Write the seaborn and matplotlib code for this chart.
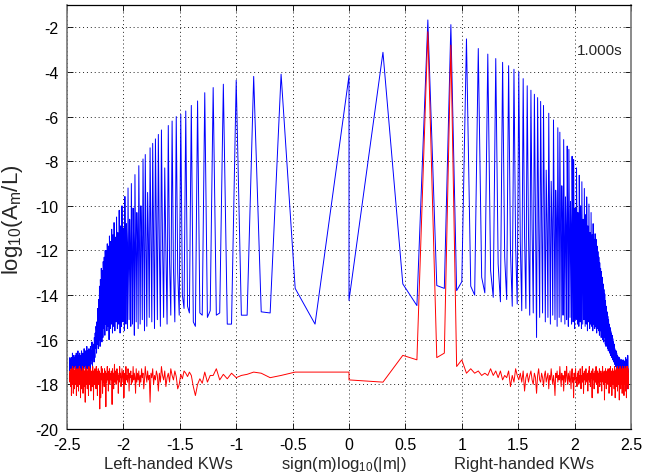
import numpy as np
import pandas as pd
import matplotlib
matplotlib.use("Agg")
import matplotlib.pyplot as plt
import matplotlib.transforms as mtransforms
import seaborn as sns

# Blue spectrum, right-handed side (m > 0), one value per group of three modes:
# m = 3j+1 (low), m = 3j+2 (peak), m = 3j+3 (mid), j = 0..99
peak_right = [
    -3.12, -1.67, -1.88, -2.52, -2.95, -3.2, -3.4, -3.57, -3.72, -3.88,
    -4.0, -4.3, -4.62, -4.82, -5.0, -5.15, -5.32, -5.5, -8.4, -5.85,
    -8.9, -6.15, -9.3, -6.5, -6.7, -9.1, -7.03, -9.6, -7.32, -7.47,
    -9.8, -7.78, -7.93, -10.1, -8.3, -10.3, -8.63, -10.0, -8.92, -10.6,
    -9.22, -10.4, -9.6, -10.9, -9.92, -11.2, -10.3, -11.3, -10.8, -11.5,
    -11.25, -11.5, -11.8, -12.05, -12.3, -12.55, -12.8, -12.95, -13.2, -13.5,
    -13.75, -13.95, -14.25, -14.5, -14.75, -14.95, -15.1, -15.3, -15.45, -15.6,
    -15.7, -15.8, -15.95, -16.1, -16.2, -16.4, -16.5, -16.55, -16.6, -16.7,
    -16.75, -16.8, -16.9, -16.85, -17.0, -16.9, -17.05, -16.95, -17.1, -16.9,
    -17.0, -17.15, -16.95, -17.05, -16.8, -17.1, -16.9, -17.2, -16.7, -17.4,
]
mid_right = [
    -13.5, -13.57, -13.8, -13.6, -13.2, -12.9, -12.6, -12.3, -12.0, -11.8,
    -11.6, -11.4, -11.2, -11.0, -10.8, -10.6, -10.7, -10.5, -10.8, -10.6,
    -10.7, -10.9, -10.6, -10.8, -11.0, -10.7, -10.9, -11.1, -10.8, -11.0,
    -11.2, -11.0, -11.3, -11.5, -11.2, -11.6, -11.4, -11.7, -11.9, -11.6,
    -12.0, -12.2, -11.9, -12.3, -12.5, -12.2, -12.6, -12.8, -12.7, -13.0,
    -13.2, -13.4, -13.3, -13.6, -13.8, -13.7, -14.0, -14.2, -14.4, -14.6,
    -14.8, -15.0, -15.1, -15.3, -15.2, -15.5, -15.6, -15.8, -15.7, -16.0,
    -16.1, -16.0, -16.3, -16.4, -16.2, -16.5, -16.6, -16.5, -16.8, -16.7,
    -16.9, -17.0, -16.8, -17.1, -17.0, -17.2, -16.9, -17.3, -17.1, -17.0,
    -17.2, -17.4, -17.1, -17.3, -17.5, -17.2, -17.4, -17.6, -17.3, -17.5,
]
low_right = [
    -14.24, -14.47, -13.7, -13.4, -14.0, -13.9, -14.1, -14.3, -14.2, -14.5,
    -14.4, -14.7, -14.6, -14.9, -14.8, -15.9, -15.0, -14.8, -15.2, -15.0,
    -15.3, -14.9, -15.1, -15.4, -15.0, -15.2, -14.9, -15.3, -15.1, -15.4,
    -15.0, -15.3, -15.2, -15.5, -15.1, -15.3, -15.4, -15.2, -15.5, -15.3,
    -15.1, -15.4, -15.3, -15.6, -15.2, -15.5, -15.3, -15.4, -15.6, -15.3,
    -15.5, -15.4, -15.7, -15.5, -15.6, -15.8, -15.6, -15.9, -15.8, -16.0,
    -16.1, -15.9, -16.2, -16.3, -16.1, -16.4, -16.5, -16.3, -16.6, -16.7,
    -16.6, -16.8, -16.9, -16.7, -17.0, -17.1, -16.9, -17.2, -17.3, -17.1,
    -17.4, -17.3, -17.5, -17.2, -17.6, -17.4, -17.7, -17.5, -17.3, -17.8,
    -17.5, -17.6, -17.9, -17.4, -17.7, -18.0, -17.6, -17.8, -18.2, -17.7,
]

# Blue spectrum, left-handed side (m < 0), groups of |m|:
# |m| = 3j+1 (peak), |m| = 3j+2 (low), |m| = 3j+3 (mid), j = 0..99
peak_left = [
    -4.17, -4.1, -4.2, -4.37, -4.55, -4.7, -4.93, -5.3, -5.5, -5.75,
    -5.9, -6.0, -6.2, -6.4, -8.3, -6.6, -6.8, -7.0, -7.2, -7.4,
    -9.4, -7.7, -7.9, -10.0, -8.2, -10.3, -8.6, -10.1, -9.0, -10.6,
    -9.2, -10.8, -9.58, -11.0, -10.0, -10.9, -10.2, -11.2, -10.5, -11.4,
    -10.75, -11.3, -11.05, -11.6, -11.35, -11.8, -11.7, -12.0, -12.0, -12.3,
    -12.5, -12.9, -12.8, -13.3, -13.6, -14.2, -14.6, -15.2, -15.4, -15.7,
    -15.9, -16.2, -16.4, -16.1, -16.5, -16.3, -16.6, -16.4, -16.7, -16.5,
    -16.3, -16.6, -16.5, -16.8, -16.4, -16.7, -16.6, -16.9, -16.5, -16.7,
    -16.8, -16.6, -16.9, -16.7, -16.5, -16.8, -17.0, -16.6, -16.9, -16.7,
    -16.8, -17.0, -16.7, -16.9, -16.6, -17.1, -16.8, -16.9, -17.0, -16.8,
]
mid_left = [
    -13.7, -14.75, -14.9, -15.3, -14.9, -15.0, -14.8, -15.2, -14.5, -14.0,
    -13.0, -12.8, -12.5, -12.0, -11.6, -11.8, -11.2, -11.6, -11.1, -11.5,
    -11.3, -11.7, -11.4, -11.8, -11.6, -12.0, -11.7, -12.1, -11.9, -12.2,
    -11.9, -12.1, -12.3, -12.0, -12.2, -12.4, -12.1, -12.3, -12.5, -12.2,
    -12.4, -12.6, -12.5, -12.8, -12.7, -13.0, -12.9, -13.1, -13.3, -13.2,
    -13.5, -13.8, -14.0, -14.3, -14.7, -15.0, -15.4, -15.7, -16.0, -16.2,
    -16.5, -16.7, -16.4, -16.8, -16.6, -16.9, -16.7, -17.0, -16.8, -16.6,
    -16.9, -17.1, -16.8, -17.0, -16.7, -17.2, -16.9, -17.0, -17.1, -16.8,
    -17.0, -17.2, -16.9, -17.1, -16.8, -17.0, -17.3, -16.9, -17.1, -17.0,
    -17.2, -16.9, -17.1, -17.3, -17.0, -17.2, -16.9, -17.1, -17.3, -17.0,
]
low_left = [
    -15.3, -14.8, -14.9, -15.3, -14.8, -14.7, -14.9, -15.4, -14.8, -14.6,
    -14.9, -15.2, -14.9, -15.3, -15.0, -15.4, -15.1, -15.5, -15.2, -15.0,
    -15.4, -15.6, -15.1, -15.3, -15.5, -15.2, -15.8, -15.3, -15.4, -15.1,
    -15.5, -15.3, -15.6, -15.2, -15.4, -15.7, -15.3, -15.5, -15.2, -15.6,
    -15.4, -15.7, -15.3, -15.5, -16.0, -15.4, -15.6, -15.3, -15.8, -15.5,
    -15.9, -16.1, -15.8, -16.3, -16.0, -16.4, -16.2, -16.6, -16.4, -16.8,
    -17.0, -16.8, -17.2, -16.9, -17.1, -17.3, -17.0, -17.2, -16.9, -17.3,
    -17.1, -17.4, -17.0, -17.2, -17.3, -16.9, -17.2, -17.4, -17.1, -17.3,
    -17.0, -17.2, -17.4, -17.1, -17.3, -16.9, -17.2, -17.0, -17.4, -17.2,
    -17.1, -17.3, -17.0, -17.2, -17.4, -17.1, -17.3, -16.9, -17.2, -17.4,
]

# Red spectrum, m = 1..300
red_right = [
    -17.8, -17.9, -16.7, -16.9, -2.2, -16.8, -16.6, -2.8, -17.2, -16.9,
    -17.5, -17.3, -17.5, -17.4, -17.6, -17.5, -17.6, -17.3, -17.6, -17.4,
    -17.7, -17.4, -17.8, -17.6, -17.7, -17.4, -18.1, -17.6, -17.9, -17.3,
    -17.6, -17.8, -17.5, -17.9, -17.4, -18.3, -17.7, -17.5, -17.9, -17.6,
    -17.4, -17.8, -18.0, -17.5, -17.7, -18.4, -17.6, -17.3, -17.8, -17.9,
    -17.5, -17.7, -18.1, -17.6, -17.4, -17.9, -17.7, -17.5, -18.2, -17.6,
    -17.8, -17.3, -17.7, -18.0, -17.6, -17.9, -18.5, -17.5, -17.7, -17.4,
    -17.9, -17.6, -17.8, -17.2, -17.7, -18.1, -17.5, -17.8, -17.6, -18.3,
    -17.7, -17.4, -17.9, -17.6, -17.2, -17.8, -18.0, -17.5, -17.7, -17.9,
    -17.4, -17.8, -18.2, -17.6, -17.3, -17.9, -17.7, -18.6, -17.5, -17.8,
    -17.6, -17.3, -17.9, -17.7, -18.1, -17.5, -17.8, -17.4, -18.0, -17.6,
    -17.9, -17.3, -17.7, -18.2, -17.6, -17.8, -17.2, -17.9, -17.5, -18.4,
    -17.7, -17.4, -17.8, -17.6, -18.0, -17.3, -17.8, -17.6, -17.9, -17.5,
    -18.3, -17.7, -17.4, -17.8, -17.2, -17.9, -17.6, -18.1, -17.5, -17.7,
    -17.4, -17.9, -18.6, -17.6, -17.3, -17.8, -17.7, -17.5, -18.2, -17.6,
    -17.8, -17.4, -17.9, -17.6, -17.2, -18.0, -17.7, -17.5, -17.9, -17.4,
    -18.4, -17.7, -17.5, -17.9, -17.6, -17.3, -18.1, -17.7, -17.5, -17.8,
    -17.4, -17.9, -17.6, -18.3, -17.5, -17.8, -17.2, -17.7, -17.9, -17.5,
    -18.0, -17.6, -17.4, -18.7, -17.7, -17.5, -17.9, -17.3, -17.8, -17.6,
    -18.2, -17.5, -17.7, -17.4, -17.9, -17.6, -18.0, -17.3, -17.8, -17.6,
    -17.5, -18.4, -17.7, -17.3, -17.9, -17.6, -17.8, -17.2, -18.1, -17.5,
    -17.7, -17.9, -17.4, -18.5, -17.6, -17.8, -17.3, -17.7, -18.0, -17.5,
    -17.9, -17.4, -17.7, -18.2, -17.6, -17.2, -17.8, -17.5, -18.6, -17.7,
    -17.4, -17.9, -17.6, -17.3, -18.1, -17.7, -17.5, -17.8, -17.2, -18.3,
    -17.6, -17.8, -17.4, -17.9, -17.5, -18.0, -17.3, -17.7, -18.7, -17.6,
    -17.4, -17.8, -17.2, -17.9, -17.6, -18.2, -17.5, -17.7, -17.3, -18.0,
    -17.6, -17.9, -17.4, -18.4, -17.7, -17.2, -17.8, -17.5, -18.1, -17.6,
    -17.3, -17.9, -17.6, -18.5, -17.4, -17.8, -17.2, -17.7, -18.0, -17.5,
    -17.8, -17.3, -18.3, -17.6, -17.4, -17.9, -17.2, -18.6, -17.7, -17.5,
    -17.8, -17.3, -18.0, -17.6, -17.2, -17.9, -17.5, -18.2, -17.4, -17.3,
]

# Red spectrum, |m| = 1..300 for m < 0
red_left = [
    -17.45, -17.45, -17.45, -17.6, -17.7, -17.5, -17.45, -17.55, -17.6, -17.7,
    -17.5, -17.75, -17.55, -17.8, -17.3, -17.6, -17.6, -17.9, -17.45, -17.95,
    -17.75, -18.0, -18.5, -18.1, -17.6, -17.45, -17.65, -17.5, -17.4, -17.75,
    -17.55, -18.0, -18.2, -17.65, -17.4, -17.8, -17.6, -17.3, -17.9, -17.5,
    -17.7, -18.1, -17.4, -17.8, -17.6, -17.2, -17.9, -17.5, -18.3, -17.6,
    -17.4, -17.8, -17.6, -18.0, -17.3, -17.7, -17.5, -18.8, -17.6, -17.8,
    -17.4, -17.9, -17.6, -17.2, -17.8, -18.2, -17.5, -17.7, -17.3, -17.9,
    -17.6, -18.1, -17.4, -17.8, -17.5, -17.9, -17.3, -18.4, -17.7, -17.5,
    -17.8, -17.2, -17.9, -17.6, -18.0, -17.4, -17.7, -17.5, -18.3, -17.6,
    -17.3, -17.9, -17.6, -17.8, -17.2, -18.0, -17.5, -17.7, -18.6, -17.4,
    -17.9, -17.6, -17.3, -17.8, -18.1, -17.5, -17.7, -17.2, -17.9, -17.6,
    -18.4, -17.5, -17.8, -17.3, -17.7, -18.0, -17.6, -17.4, -17.9, -17.1,
    -17.6, -18.2, -17.5, -17.8, -17.3, -18.9, -17.6, -17.4, -17.8, -17.7,
    -17.5, -18.0, -17.3, -17.9, -17.6, -18.3, -17.4, -17.8, -17.2, -17.7,
    -17.9, -17.5, -19.0, -17.6, -17.4, -17.8, -17.3, -18.1, -17.6, -17.9,
    -17.5, -17.7, -18.4, -17.3, -17.8, -17.6, -17.2, -17.9, -18.6, -17.5,
    -17.7, -19.1, -17.4, -17.8, -17.6, -18.0, -17.3, -17.9, -17.5, -18.5,
    -17.6, -17.4, -17.8, -17.2, -18.2, -17.7, -17.5, -17.9, -17.3, -18.0,
    -17.6, -17.8, -17.4, -18.7, -17.5, -17.9, -17.2, -17.7, -18.1, -17.6,
    -17.4, -17.9, -17.6, -18.3, -17.5, -17.8, -17.3, -17.7, -18.0, -17.5,
    -17.8, -17.2, -17.9, -18.5, -17.6, -17.4, -17.8, -17.5, -18.2, -17.7,
    -17.3, -17.9, -17.6, -18.0, -17.4, -17.8, -17.2, -18.8, -17.6, -17.5,
    -17.9, -17.4, -18.1, -17.7, -17.3, -17.8, -17.6, -18.4, -17.5, -17.2,
    -17.8, -17.6, -17.9, -17.4, -18.2, -17.7, -17.5, -17.9, -17.3, -18.6,
    -17.6, -17.4, -17.8, -17.5, -18.0, -17.2, -17.7, -17.9, -17.4, -18.3,
    -17.6, -17.8, -17.3, -17.9, -17.5, -18.1, -17.7, -17.4, -17.8, -17.6,
    -18.5, -17.5, -17.3, -17.9, -17.6, -17.8, -17.2, -18.0, -17.7, -17.5,
    -17.9, -17.4, -18.2, -17.6, -17.8, -17.3, -17.7, -18.4, -17.5, -17.9,
    -17.6, -17.2, -17.8, -18.0, -17.5, -17.7, -17.4, -17.9, -18.5, -17.6,
    -17.3, -17.8, -17.6, -18.1, -17.5, -17.7, -17.4, -17.9, -17.6, -17.5,
]

x_ticks = [-2.5, -2, -1.5, -1, -0.5, 0, 0.5, 1, 1.5, 2, 2.5]
x_tick_labels = ["-2.5", "-2", "-1.5", "-1", "-0.5", "0", "0.5", "1", "1.5", "2", "2.5"]
y_ticks = [-20, -18, -16, -14, -12, -10, -8, -6, -4, -2]
y_tick_labels = ["-20", "-18", "-16", "-14", "-12", "-10", "-8", "-6", "-4", "-2"]
time_label = "1.000s"

# ---- assemble the mode spectra, ordered from m = -300 up to m = 300 ----
n = 300
blue_pos = np.empty(n)
blue_pos[0::3] = low_right
blue_pos[1::3] = peak_right
blue_pos[2::3] = mid_right
blue_neg = np.empty(n)           # indexed by |m| - 1
blue_neg[0::3] = peak_left
blue_neg[1::3] = low_left
blue_neg[2::3] = mid_left

m_abs = np.arange(1, n + 1)
m_all = np.concatenate([-m_abs[::-1], m_abs])
blue_all = np.concatenate([blue_neg[::-1], blue_pos])
red_all = np.concatenate([np.array(red_left)[::-1], np.array(red_right)])

df = pd.DataFrame({
    "m": m_all,
    "x": np.sign(m_all) * np.log10(np.abs(m_all)),
    "blue": blue_all,
    "red": red_all,
})

# ---- style ----
sns.set_style("ticks")
plt.rcParams["font.family"] = ["Liberation Sans", "DejaVu Sans"]
plt.rcParams["mathtext.fontset"] = "custom"
plt.rcParams["mathtext.rm"] = "Liberation Sans"
plt.rcParams["mathtext.it"] = "Liberation Sans:italic"
plt.rcParams["mathtext.default"] = "regular"
plt.rcParams["axes.unicode_minus"] = False

W, H = 647, 477
fig = plt.figure(figsize=(W / 100, H / 100), dpi=100, facecolor="white")
ax = fig.add_axes([67 / W, 1 - 430 / H, 564 / W, 424 / H])

sns.lineplot(data=df, x="x", y="blue", sort=False, estimator=None,
             color="#0000ff", lw=0.7, ax=ax)
sns.lineplot(data=df, x="x", y="red", sort=False, estimator=None,
             color="#ff0000", lw=0.7, ax=ax)

ax.set_xlim(-2.5, 2.5)
ax.set_ylim(-20, -1)
ax.set_xticks(x_ticks)
ax.set_xticklabels(x_tick_labels)
ax.set_yticks(y_ticks)
ax.set_yticklabels(y_tick_labels)
ax.tick_params(direction="in", length=4, width=0.6, top=True, right=True,
               labelsize=11.5, pad=6, colors="black")

ax.grid(True, linestyle=(0, (1, 3)), color="#222222", lw=0.7)
for side in ("top", "bottom"):
    ax.spines[side].set_color("black")
    ax.spines[side].set_linewidth(0.9)
for side in ("left", "right"):
    ax.spines[side].set_color("#777777")
    ax.spines[side].set_linewidth(1.2)
    ax.spines[side].set_visible(True)

ax.set_xlabel("")
ax.set_ylabel(r"log$_{10}$(A$_{m}$/L)", fontsize=16)
ax.yaxis.set_label_coords(-0.075, 0.495)

trans = mtransforms.blended_transform_factory(ax.transData, ax.transAxes)
ax.text(-1.6, -0.082, "Left-handed KWs", transform=trans, ha="center",
        va="center", fontsize=12)
ax.text(-0.05, -0.082, r"sign(m)log$_{10}$(|m|)", transform=trans,
        ha="center", va="center", fontsize=12)
ax.text(1.55, -0.082, "Right-handed KWs", transform=trans, ha="center",
        va="center", fontsize=12)

ax.text(2.02, -3.0, time_label, ha="left", va="center", fontsize=11)

fig.savefig("out.png", dpi=100, facecolor="white")
